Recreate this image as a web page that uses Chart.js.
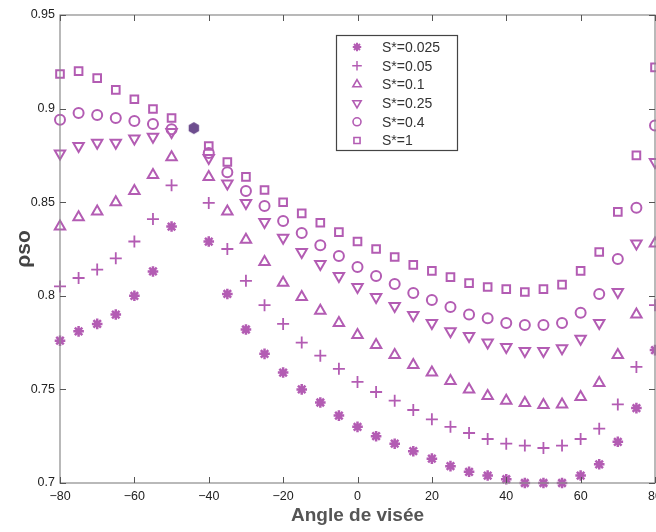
<!DOCTYPE html>
<html>
<head>
<meta charset="utf-8">
<script src="https://cdn.jsdelivr.net/npm/chart.js@4/dist/chart.umd.min.js"></script>
<style>
  html, body { margin: 0; padding: 0; background: #fff; overflow: hidden; }
  #wrap { width: 663px; height: 532px; }
</style>
</head>
<body>
<div id="wrap"><canvas id="c" width="663" height="532"></canvas></div>
<script>
// viewing angles, 5 deg step (no value at -45)
const angles = [-80,-75,-70,-65,-60,-55,-50,-45,-40,-35,-30,-25,-20,-15,-10,-5,0,5,10,15,20,25,30,35,40,45,50,55,60,65,70,75,80];

const seriesLabels = ['S*=0.025', 'S*=0.05', 'S*=0.1', 'S*=0.25', 'S*=0.4', 'S*=1'];

const rhoS0025 = [0.776,0.781,0.785,0.790,0.800,0.813,0.837,null,0.829,0.801,0.782,0.769,0.759,0.750,0.743,0.736,0.730,0.725,0.721,0.717,0.713,0.709,0.706,0.704,0.702,0.700,0.700,0.700,0.704,0.710,0.722,0.740,0.771];
const rhoS005  = [0.805,0.8095,0.814,0.820,0.829,0.841,0.859,null,0.8496,0.825,0.808,0.795,0.785,0.775,0.768,0.761,0.754,0.7486,0.744,0.739,0.734,0.730,0.7267,0.7235,0.721,0.720,0.7187,0.720,0.7235,0.729,0.742,0.762,0.795];
const rhoS01   = [0.837,0.842,0.845,0.850,0.856,0.8645,0.874,null,0.8635,0.845,0.830,0.818,0.807,0.7994,0.792,0.7855,0.779,0.7737,0.7684,0.763,0.759,0.7545,0.750,0.7465,0.744,0.7427,0.7417,0.742,0.746,0.7534,0.7684,0.790,0.828];
const rhoS025  = [0.876,0.880,0.8817,0.8817,0.884,0.885,0.8875,null,0.8736,0.860,0.8496,0.8394,0.831,0.8234,0.817,0.8106,0.8047,0.7994,0.7946,0.7897,0.7855,0.781,0.7785,0.775,0.7726,0.7705,0.7705,0.772,0.777,0.7855,0.802,0.828,0.8715];
const rhoS04   = [0.894,0.8976,0.8966,0.895,0.8934,0.8918,0.889,null,0.8763,0.866,0.856,0.848,0.840,0.8335,0.827,0.8213,0.8154,0.8106,0.8063,0.8015,0.7978,0.794,0.790,0.788,0.7855,0.7844,0.7844,0.7855,0.791,0.801,0.8197,0.847,0.891];
const rhoS1    = [0.9185,0.920,0.9163,0.910,0.905,0.8998,0.895,null,0.880,0.8715,0.8635,0.8565,0.850,0.844,0.839,0.834,0.829,0.825,0.8207,0.8165,0.8133,0.810,0.8068,0.8047,0.8036,0.802,0.8036,0.806,0.8133,0.8234,0.8448,0.875,0.922];

// the odd dark filled marker near -45
const darkMarkX = [-44];
const darkMarkY = [0.8896];

const xTicks = [-80,-60,-40,-20,0,20,40,60,80];
const yTicks = [0.7,0.75,0.8,0.85,0.9,0.95];

const purple = '#b35cb3';

function toPoints(ys) {
    return angles.map((a, i) => ({ x: a, y: ys[i] })).filter(p => p.y !== null);
}

// hexagon marker for the dark point
function hexagon(r, color) {
    const cv = document.createElement('canvas');
    cv.width = cv.height = r * 2 + 2;
    const g = cv.getContext('2d');
    g.fillStyle = color;
    g.beginPath();
    for (let k = 0; k < 6; k++) {
        const ang = Math.PI / 6 + k * Math.PI / 3;
        const px = r + 1 + r * Math.cos(ang), py = r + 1 + r * Math.sin(ang);
        if (k === 0) g.moveTo(px, py); else g.lineTo(px, py);
    }
    g.closePath();
    g.fill();
    return cv;
}

const styles = [
    { pointStyle: 'star', rotation: 0, radius: 5.3, borderWidth: 2.5 },
    { pointStyle: 'cross', rotation: 0, radius: 6, borderWidth: 1.8 },
    { pointStyle: 'triangle', rotation: 0, radius: 6, borderWidth: 2 },
    { pointStyle: 'triangle', rotation: 180, radius: 6, borderWidth: 2 },
    { pointStyle: 'circle', rotation: 0, radius: 5, borderWidth: 2 },
    { pointStyle: 'rect', rotation: 0, radius: 5.4, borderWidth: 2 }
];
const allSeries = [rhoS0025, rhoS005, rhoS01, rhoS025, rhoS04, rhoS1];

const datasets = allSeries.map((ys, i) => ({
    label: seriesLabels[i],
    data: toPoints(ys),
    pointStyle: styles[i].pointStyle,
    rotation: styles[i].rotation,
    pointRadius: styles[i].radius,
    pointBorderWidth: styles[i].borderWidth,
    pointBorderColor: purple,
    pointBackgroundColor: 'rgba(0,0,0,0)',
    showLine: false,
    clip: false
}));
datasets.push({
    label: '',
    data: darkMarkX.map((x, i) => ({ x: x, y: darkMarkY[i] })),
    pointStyle: hexagon(6, '#6d4d8e'),
    pointRadius: 6,
    showLine: false,
    clip: false
});

// box, inward ticks and the boxed legend
const framePlugin = {
    id: 'frame',
    afterDraw(chart) {
        const { ctx, chartArea: a, scales } = chart;
        ctx.save();
        ctx.strokeStyle = '#8a8a8a';
        ctx.lineWidth = 1.2;
        ctx.strokeRect(a.left, a.top, a.right - a.left, a.bottom - a.top);
        ctx.strokeStyle = '#555';
        ctx.lineWidth = 1;
        ctx.beginPath();
        xTicks.forEach(v => {
            const x = Math.round(scales.x.getPixelForValue(v)) + 0.5;
            ctx.moveTo(x, a.bottom); ctx.lineTo(x, a.bottom - 6);
            ctx.moveTo(x, a.top); ctx.lineTo(x, a.top + 6);
        });
        yTicks.forEach(v => {
            const y = Math.round(scales.y.getPixelForValue(v)) + 0.5;
            ctx.moveTo(a.left, y); ctx.lineTo(a.left + 6, y);
            ctx.moveTo(a.right, y); ctx.lineTo(a.right - 6, y);
        });
        ctx.stroke();

        // legend
        const lx = 336, ly = 35, lw = 121, lh = 115;
        ctx.fillStyle = '#fff';
        ctx.fillRect(lx, ly, lw, lh);
        ctx.strokeStyle = '#444';
        ctx.lineWidth = 1.2;
        ctx.strokeRect(lx + 0.5, ly + 0.5, lw, lh);
        ctx.font = '14px "Liberation Sans", Arial, sans-serif';
        ctx.textBaseline = 'middle';
        seriesLabels.forEach((lab, i) => {
            const y = ly + 12 + i * 18.7;
            ctx.strokeStyle = purple;
            ctx.fillStyle = 'rgba(0,0,0,0)';
            ctx.lineWidth = styles[i].borderWidth * 0.8;
            Chart.helpers.drawPoint(ctx, {
                pointStyle: styles[i].pointStyle,
                rotation: styles[i].rotation,
                radius: styles[i].radius * 0.8,
                borderWidth: styles[i].borderWidth * 0.8
            }, lx + 21, y);
            ctx.fillStyle = '#333';
            ctx.fillText(lab, lx + 46, y + 1);
        });
        ctx.restore();
    }
};

new Chart(document.getElementById('c'), {
    type: 'scatter',
    data: { datasets: datasets },
    options: {
        responsive: false,
        animation: false,
        layout: { padding: { top: 15, right: 0, left: 0, bottom: 0 } },
        plugins: { legend: { display: false }, tooltip: { enabled: false } },
        scales: {
            x: {
                type: 'linear', min: -80, max: 80,
                afterBuildTicks: s => { s.ticks = xTicks.map(v => ({ value: v })); },
                afterFit: s => { s.height = 49; s.paddingRight = 0; s.paddingLeft = 0; },
                grid: { display: false, drawTicks: false },
                border: { display: false },
                ticks: {
                    color: '#222', padding: 6,
                    font: { family: '"Liberation Sans", Arial, sans-serif', size: 12.5 },
                    callback: v => String(v).replace('-', '\u2212')
                },
                title: {
                    display: true, text: 'Angle de visée', color: '#555',
                    font: { family: '"Liberation Sans", Arial, sans-serif', size: 19, weight: 'bold' },
                    padding: { top: 0, bottom: 5 }
                }
            },
            y: {
                type: 'linear', min: 0.7, max: 0.95,
                afterBuildTicks: s => { s.ticks = yTicks.map(v => ({ value: v })); },
                afterFit: s => { s.width = 60; },
                grid: { display: false, drawTicks: false },
                border: { display: false },
                ticks: {
                    color: '#222', padding: 5,
                    font: { family: '"Liberation Sans", Arial, sans-serif', size: 12.5 },
                    callback: v => String(Number(v.toFixed(2)))
                },
                title: {
                    display: true, text: 'ρso', color: '#444',
                    font: { family: '"Liberation Sans", Arial, sans-serif', size: 21, weight: 'bold' },
                    padding: { top: 12, bottom: 0 }
                }
            }
        }
    },
    plugins: [framePlugin]
});
</script>
</body>
</html>
